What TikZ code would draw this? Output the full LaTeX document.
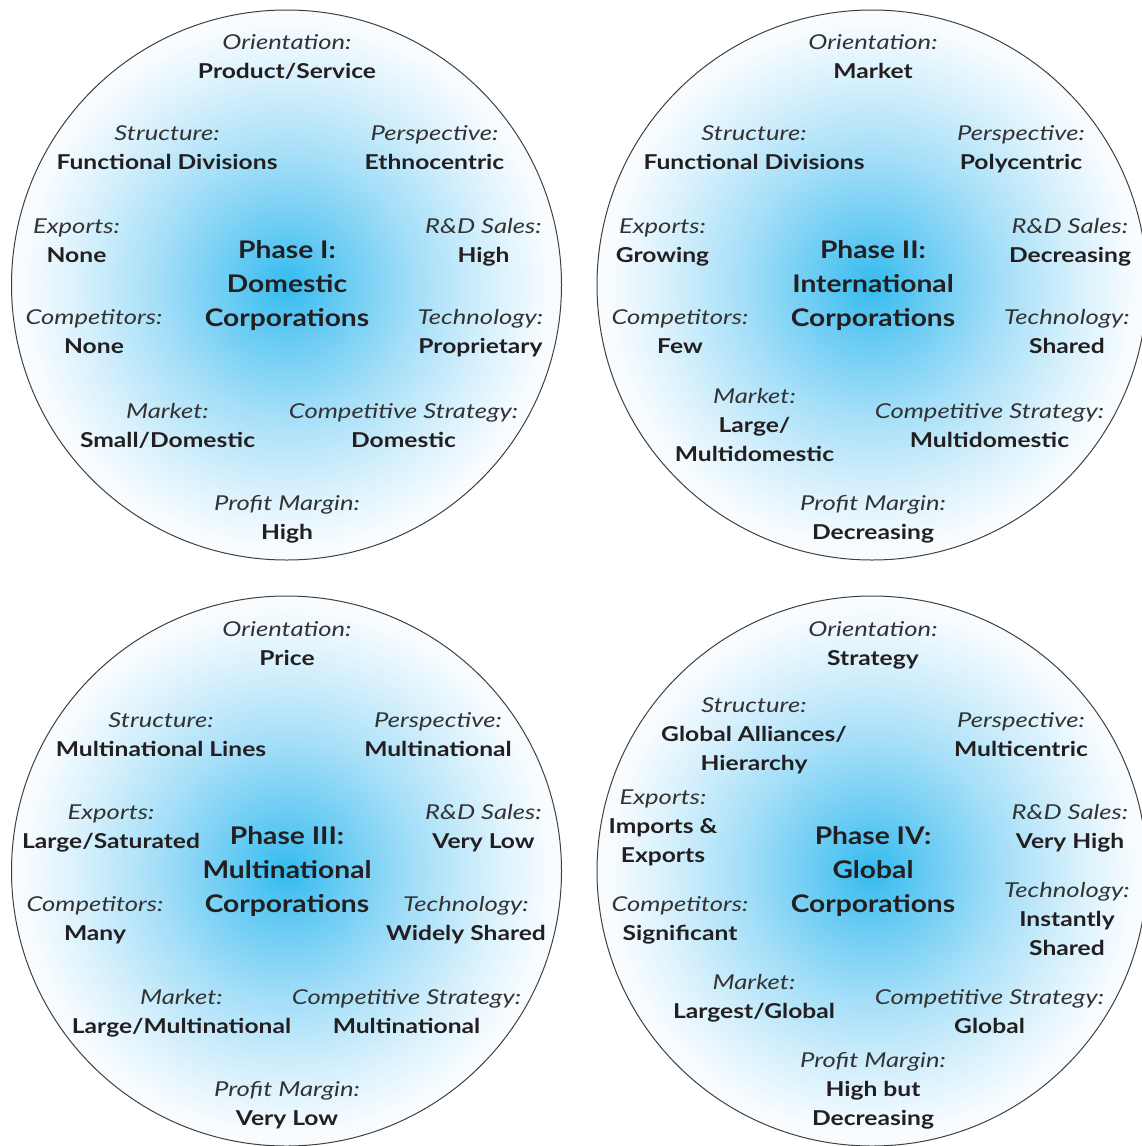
\documentclass[tikz,border=0pt]{standalone}
\usepackage{fontspec}
\setmainfont{Lato}[FakeStretch=1.2]
\newfontfamily\keyfont{Lato}[FakeStretch=1.25]
\newfontfamily\titlefont{Lato}[FakeStretch=1.16]
\definecolor{cA}{HTML}{34BBEE}
\definecolor{cB}{HTML}{68CBF3}
\definecolor{cC}{HTML}{A6DFF8}
\definecolor{cD}{HTML}{D9F1FC}
\definecolor{cE}{HTML}{F8FCFF}
\definecolor{txt}{HTML}{231F20}
\definecolor{keytxt}{HTML}{333333}
\pgfdeclareradialshading{phaseshade}{\pgfpoint{0bp}{0bp}}{color(0bp)=(cA); color(5bp)=(cB); color(12bp)=(cC); color(19bp)=(cD); color(24bp)=(cE); color(25bp)=(cE); color(50bp)=(cE)}
\newcommand\lk[1]{{\keyfont\itshape\color{keytxt}\strut #1}}
\newcommand\lv[1]{{\bfseries\strut #1}}
\newcommand\ttl[1]{\strut #1}
\tikzset{
  phase/.style={circle, draw=black!75, line width=1pt, shading=phaseshade, minimum size=550pt, inner sep=0pt},
  attr/.style={anchor=north, align=center, inner sep=0pt, yshift=-1pt, text=txt, font=\fontsize{20.5}{29}\selectfont},
  ttlnode/.style={anchor=north, align=center, inner sep=0pt, yshift=-1pt, text=txt, font=\titlefont\fontsize{24.3}{34}\selectfont\bfseries},
}
\begin{document}
\begin{tikzpicture}[x=1pt, y=-1pt]
\useasboundingbox (0,0) rectangle (1142,1146);
\clip (0,0) rectangle (1142,1146);
% circles
\node[phase] (c1) at (286.5,285) {};
\node[phase] (c2) at (872,285) {};
\node[phase] (c3) at (286.5,871) {};
\node[phase] (c4) at (872,871) {};
% Phase I
\node[attr] (c1or) at (287,27.7) {\lk{Orientation:}\\\lv{Product/Service}};
\node[attr] (c1st) at (167,118.7) {\lk{Structure:}\\\lv{Functional Divisions}};
\node[attr] (c1pe) at (434.5,118.7) {\lk{Perspective:}\\\lv{Ethnocentric}};
\node[attr] (c1ex) at (76.5,211.7) {\lk{Exports:}\\\lv{None}};
\node[attr] (c1rd) at (483.5,211.7) {\lk{R\&D Sales:}\\\lv{High}};
\node[ttlnode] (c1ti) at (287,233.7) {\ttl{Phase I:}\\\ttl{Domestic}\\\ttl{Corporations}};
\node[attr] (c1co) at (94,302.7) {\lk{Competitors:}\\\lv{None}};
\node[attr] (c1te) at (480.5,302.7) {\lk{Technology:}\\\lv{Proprietary}};
\node[attr] (c1mk) at (167.5,396.7) {\lk{Market:}\\\lv{Small/Domestic}};
\node[attr] (c1cs) at (403.5,396.7) {\lk{Competitive Strategy:}\\\lv{Domestic}};
\node[attr] (c1pm) at (287,488.7) {\lk{Profit Margin:}\\\lv{High}};
% Phase II
\node[attr] (c2or) at (873,27.7) {\lk{Orientation:}\\\lv{Market}};
\node[attr] (c2st) at (754,118.7) {\lk{Structure:}\\\lv{Functional Divisions}};
\node[attr] (c2pe) at (1021,118.7) {\lk{Perspective:}\\\lv{Polycentric}};
\node[attr] (c2ex) at (662.5,211.7) {\lk{Exports:}\\\lv{Growing}};
\node[attr] (c2rd) at (1070,211.7) {\lk{R\&D Sales:}\\\lv{Decreasing}};
\node[ttlnode] (c2ti) at (873,233.7) {\ttl{Phase II:}\\\ttl{International}\\\ttl{Corporations}};
\node[attr] (c2co) at (680,302.7) {\lk{Competitors:}\\\lv{Few}};
\node[attr] (c2te) at (1067,302.7) {\lk{Technology:}\\\lv{Shared}};
\node[attr] (c2mk) at (754.5,381.7) {\lk{Market:}\\\lv{Large/}\\\lv{Multidomestic}};
\node[attr] (c2cs) at (989.5,396.7) {\lk{Competitive Strategy:}\\\lv{Multidomestic}};
\node[attr] (c2pm) at (873,488.7) {\lk{Profit Margin:}\\\lv{Decreasing}};
% Phase III
\node[attr] (c3or) at (287,614.7) {\lk{Orientation:}\\\lv{Price}};
\node[attr] (c3st) at (161,705.7) {\lk{Structure:}\\\lv{Multinational Lines}};
\node[attr] (c3pe) at (438,705.7) {\lk{Perspective:}\\\lv{Multinational}};
\node[attr] (c3ex) at (111,797.7) {\lk{Exports:}\\\lv{Large/Saturated}};
\node[attr] (c3rd) at (483.5,797.7) {\lk{R\&D Sales:}\\\lv{Very Low}};
\node[ttlnode] (c3ti) at (287,819.7) {\ttl{Phase III:}\\\ttl{Multinational}\\\ttl{Corporations}};
\node[attr] (c3co) at (95,889.7) {\lk{Competitors:}\\\lv{Many}};
\node[attr] (c3te) at (466,889.7) {\lk{Technology:}\\\lv{Widely Shared}};
\node[attr] (c3mk) at (181.5,982.7) {\lk{Market:}\\\lv{Large/Multinational}};
\node[attr] (c3cs) at (406.5,982.7) {\lk{Competitive Strategy:}\\\lv{Multinational}};
\node[attr] (c3pm) at (287,1074.7) {\lk{Profit Margin:}\\\lv{Very Low}};
% Phase IV
\node[attr] (c4or) at (873,614.7) {\lk{Orientation:}\\\lv{Strategy}};
\node[attr] (c4st) at (754,690.7) {\lk{Structure:}\\\lv{Global Alliances/}\\\lv{Hierarchy}};
\node[attr] (c4pe) at (1021,705.7) {\lk{Perspective:}\\\lv{Multicentric}};
\node[attr] (c4ex) at (663,782.7) {\lk{Exports:}\\\lv{Imports \&}\\\lv{Exports}};
\node[attr] (c4rd) at (1070,797.7) {\lk{R\&D Sales:}\\\lv{Very High}};
\node[ttlnode] (c4ti) at (873,819.7) {\ttl{Phase IV:}\\\ttl{Global}\\\ttl{Corporations}};
\node[attr] (c4co) at (680,889.7) {\lk{Competitors:}\\\lv{Significant}};
\node[attr] (c4te) at (1067,875.7) {\lk{Technology:}\\\lv{Instantly}\\\lv{Shared}};
\node[attr] (c4mk) at (754,967.7) {\lk{Market:}\\\lv{Largest/Global}};
\node[attr] (c4cs) at (989.5,982.7) {\lk{Competitive Strategy:}\\\lv{Global}};
\node[attr] (c4pm) at (873,1045.7) {\lk{Profit Margin:}\\\lv{High but}\\\lv{Decreasing}};
\end{tikzpicture}
\end{document}
